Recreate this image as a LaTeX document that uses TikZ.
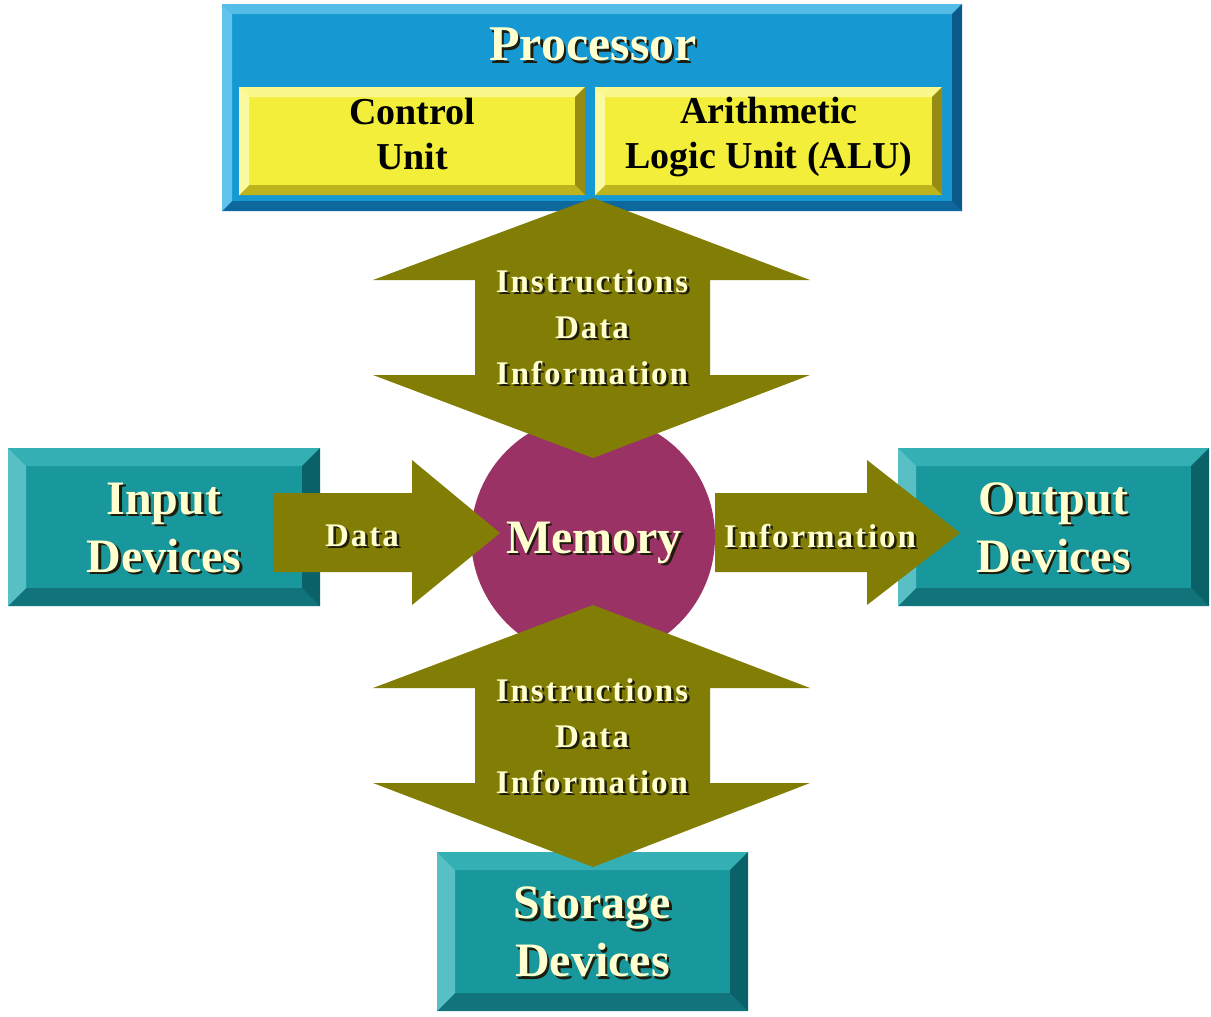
\documentclass[tikz,border=0pt]{standalone}
\usepackage{fontspec}
\setmainfont{Liberation Serif}
\newfontfamily\spacedserif{Liberation Serif}[LetterSpace=6]

% palette
\definecolor{procmain}{RGB}{22,152,210}
\definecolor{proctop}{RGB}{85,188,232}
\definecolor{procleft}{RGB}{95,195,238}
\definecolor{procright}{RGB}{12,88,138}
\definecolor{procbottom}{RGB}{14,104,155}
\definecolor{ylwmain}{RGB}{242,238,58}
\definecolor{ylwtop}{RGB}{250,248,140}
\definecolor{ylwleft}{RGB}{252,250,160}
\definecolor{ylwright}{RGB}{150,140,20}
\definecolor{ylwbottom}{RGB}{190,180,30}
\definecolor{tealmain}{RGB}{24,152,156}
\definecolor{tealtop}{RGB}{52,176,180}
\definecolor{tealleft}{RGB}{88,192,196}
\definecolor{tealright}{RGB}{10,98,104}
\definecolor{tealbottom}{RGB}{16,116,122}
\definecolor{olivearrow}{RGB}{130,125,4}
\definecolor{memfill}{RGB}{154,50,102}
\definecolor{cream}{RGB}{255,255,208}
\definecolor{textshade}{RGB}{30,28,10}

% four mitred faces round the edge of a box; #1 width, #2..#5 top/left/right/bottom colours
\newcommand\bevelfaces[5]{%
  \fill[#2] (path picture bounding box.north west) -- (path picture bounding box.north east)
     -- ([shift={(-#1,#1)}]path picture bounding box.north east)
     -- ([shift={(#1,#1)}]path picture bounding box.north west) -- cycle;
  \fill[#5] (path picture bounding box.south west) -- (path picture bounding box.south east)
     -- ([shift={(-#1,-#1)}]path picture bounding box.south east)
     -- ([shift={(#1,-#1)}]path picture bounding box.south west) -- cycle;
  \fill[#3] (path picture bounding box.north west) -- (path picture bounding box.south west)
     -- ([shift={(#1,-#1)}]path picture bounding box.south west)
     -- ([shift={(#1,#1)}]path picture bounding box.north west) -- cycle;
  \fill[#4] (path picture bounding box.north east) -- (path picture bounding box.south east)
     -- ([shift={(-#1,-#1)}]path picture bounding box.south east)
     -- ([shift={(-#1,#1)}]path picture bounding box.north east) -- cycle;
}

% one line of cream text over its dark drop shadow
\newcommand\shadowed[1]{%
  \rlap{\kern2.5pt\raisebox{-2.5pt}{\textcolor{textshade}{#1}}}\textcolor{cream}{#1}}

\tikzset{
  plainbox/.style={rectangle, draw=none, outer sep=0pt, inner sep=0pt},
  procbox/.style={plainbox, fill=procmain,
    path picture={\bevelfaces{10}{proctop}{procleft}{procright}{procbottom}}},
  unitbox/.style={plainbox, fill=ylwmain,
    path picture={\bevelfaces{10}{ylwtop}{ylwleft}{ylwright}{ylwbottom}}},
  devbox/.style={plainbox, fill=tealmain,
    path picture={\bevelfaces{18}{tealtop}{tealleft}{tealright}{tealbottom}}},
  blockarrow/.style={fill=olivearrow, draw=none},
  lbl/.style={align=center, inner sep=0pt},
  unitfont/.style={lbl, text=black, font=\fontsize{38}{45}\selectfont\bfseries},
  titlefont/.style={lbl, font=\fontsize{50}{58}\selectfont\bfseries},
  bigfont/.style={lbl, font=\fontsize{48}{58}\selectfont\bfseries},
  flowfont/.style={lbl, font=\fontsize{33}{46}\selectfont\spacedserif\bfseries},
}

\begin{document}
\begin{tikzpicture}[x=1pt, y=-1pt]
  \useasboundingbox[fill=white] (0,0) rectangle (1211,1017);

  % processor with its two units
  \node[procbox, minimum width=740pt, minimum height=207pt] (proc) at (592,107.5) {};
  \node[unitbox, minimum width=346pt, minimum height=108pt] (cu) at (412,141) {};
  \node[unitbox, minimum width=347pt, minimum height=108pt] (alu) at (768.5,141) {};

  % peripheral devices
  \node[devbox, minimum width=312pt, minimum height=158pt] (input) at (164,527) {};
  \node[devbox, minimum width=311pt, minimum height=158pt] (output) at (1053.5,527) {};
  \node[devbox, minimum width=311pt, minimum height=159pt] (storage) at (592.5,931.5) {};

  % memory
  \node[circle, fill=memfill, draw=none, inner sep=0pt, minimum size=244pt] (mem) at (593,537) {};

  % block arrows
  \fill[blockarrow] (593,198) -- (810,280) -- (710,280) -- (710,375) -- (810,375) -- (593,458)
     -- (373,375) -- (475,375) -- (475,280) -- (373,280) -- cycle;
  \fill[blockarrow] (593,605) -- (810,688) -- (710,688) -- (710,783) -- (810,783) -- (593,867)
     -- (373,783) -- (475,783) -- (475,688) -- (373,688) -- cycle;
  \fill[blockarrow] (273,493) -- (412,493) -- (412,460) -- (500,533) -- (412,605) -- (412,572)
     -- (273,572) -- cycle;
  \fill[blockarrow] (715,493) -- (867,493) -- (867,460) -- (960,533) -- (867,605) -- (867,572)
     -- (715,572) -- cycle;

  % labels
  \node[titlefont] (proctext) at (593,46) {\shadowed{Processor}};
  \node[unitfont] (cutext) at (412,134) {Control\\Unit};
  \node[unitfont] (alutext) at (769,137) {Arithmetic\\Logic Unit (ALU)};

  \node[bigfont] (intext) at ([yshift=-2]input) {\shadowed{Input}\\\shadowed{Devices}};
  \node[bigfont] (outtext) at ([yshift=-2]output) {\shadowed{Output}\\\shadowed{Devices}};
  \node[bigfont] (storetext) at ([yshift=-2]storage) {\shadowed{Storage}\\\shadowed{Devices}};
  \node[bigfont] (memtext) at (594,544) {\shadowed{Memory}};

  \node[flowfont] (uptext) at (592,328) {\shadowed{Instructions}\\\shadowed{Data}\\\shadowed{Information}};
  \node[flowfont] (downtext) at (592,737) {\shadowed{Instructions}\\\shadowed{Data}\\\shadowed{Information}};
  \node[flowfont] (datatext) at (362,537) {\shadowed{Data}};
  \node[flowfont] (infotext) at (820,537) {\shadowed{Information}};
\end{tikzpicture}
\end{document}
